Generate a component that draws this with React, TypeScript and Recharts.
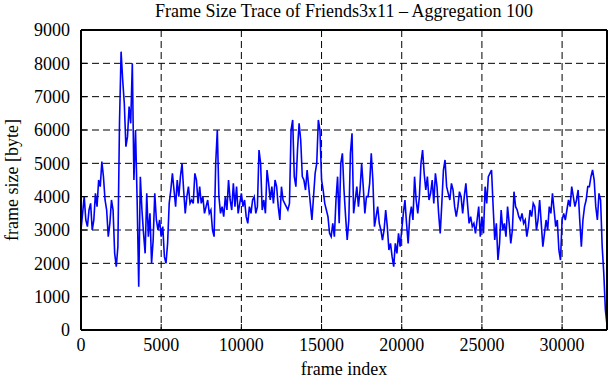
import { CartesianGrid, Line, LineChart, XAxis, YAxis } from "recharts";

// frame size (bytes), one reading every 100 frames (aggregation 100)
const sizes = [
  3000, 3500, 4000, 3300, 3100, 3600, 3800, 3000, 3300, 4100,
  3700, 4500, 4300, 5050, 4600, 3900, 3600, 2800, 3200, 3900,
  3600, 2300, 1900, 2500, 6200, 8350, 7500, 6800, 5500, 5800,
  6700, 6200, 8000, 4500, 6000, 3900, 1300, 4600, 3600, 2900,
  2300, 4100, 2800, 3500, 2000, 2700, 4100, 3300, 3000, 3300,
  2800, 3100, 2200, 2000, 2600, 3800, 4200, 4700, 4200, 3700,
  4500, 4000, 4600, 5000, 4200, 3500, 4000, 4300, 3800, 3900,
  3800, 4700, 4500, 3800, 4300, 3800, 4000, 3500, 3700, 3900,
  3500, 3600, 3000, 2800, 5000, 6000, 4000, 3500, 3700, 3400,
  4000, 3600, 4500, 3900, 3600, 4400, 3700, 4300, 3500, 3800,
  4100, 3700, 3900, 3400, 3200, 3700, 3500, 3900, 4000, 3500,
  3700, 5400, 5000, 3600, 3900, 3500, 4800, 4400, 3900, 4300,
  3800, 4500, 4300, 3700, 3300, 4300, 3900, 3800, 3700, 3600,
  3800, 6000, 6300, 4600, 4300, 5400, 6200, 5700, 4600, 4500,
  4200, 4800, 4300, 3800, 3300, 4000, 4700, 5000, 6300, 6000,
  4500, 4200, 3800, 3600, 3400, 2900, 2800, 3200, 2800, 3900,
  4600, 3200, 5000, 5300, 4200, 3400, 2700, 3300, 5300, 5900,
  3500, 3900, 4300, 3700, 4200, 5000, 4300, 3500, 4000, 4000,
  4400, 5300, 4500, 3100, 3400, 3700, 3200, 3000, 2700, 3000,
  3600, 3100, 2400, 2600, 2200, 1900, 2600, 2300, 2900, 2500,
  3000, 3500, 3900, 3200, 2600, 3400, 3700, 3300, 4600, 3900,
  3500, 4000, 5000, 5400, 4700, 4200, 4600, 3900, 4100, 4500,
  3800, 4700, 4300, 3500, 2900, 3800, 4800, 5100, 4300, 4100,
  3900, 4400, 4200, 3700, 3400, 3700, 4150, 4000, 3500, 4000,
  4400, 3800, 3200, 3400, 3100, 3200, 2900, 3300, 3700, 2800,
  3400, 2900, 4300, 3800, 4600, 4700, 4800, 3700, 2700, 3200,
  2100, 2600, 3600, 3000, 3200, 2800, 3700, 3200, 2600, 3000,
  4150, 3700, 3600, 3400, 3300, 3500, 3200, 3300, 2800, 3100,
  3600, 3400, 3800, 3700, 3000, 3300, 3900, 3200, 2500, 2900,
  3300, 3000, 3700, 3500, 4100, 3600, 3100, 3300, 2400, 2100,
  3300, 3500, 3300, 3600, 3900, 3700, 4300, 4000, 3700, 3900,
  4200, 3300, 2500, 3300, 3700, 3900, 4300, 4300, 4600, 4800,
  4500, 3700, 3300, 4100, 3900, 2500, 1700, 600, 150,
];
const frames = sizes.map((_, i) => i * 100);

const xTicks = [0, 5000, 10000, 15000, 20000, 25000, 30000];
const yTicks = [0, 1000, 2000, 3000, 4000, 5000, 6000, 7000, 8000, 9000];

const data = frames.map((frame, i) => ({ frame, size: sizes[i] }));

const FONT = '"Liberation Serif", "Times New Roman", serif';
const tickStyle = { fill: "#000", fontSize: 18, fontFamily: FONT };
const axisLine = { stroke: "#000", strokeWidth: 2 };
const tickLine = { stroke: "#000", strokeWidth: 1 };

export default function App() {
  return (
    <div style={{ position: "absolute", left: 0, top: 0, width: 611, height: 380, background: "#fff" }}>
      <div
        style={{
          position: "absolute",
          left: 81,
          top: 0,
          width: 526,
          textAlign: "center",
          fontFamily: FONT,
          fontSize: 18,
          lineHeight: "22px",
        }}
      >
        Frame Size Trace of Friends3x11 – Aggregation 100
      </div>
      <LineChart width={611} height={380} data={data} margin={{ top: 0, right: 0, bottom: 0, left: 0 }}>
        <CartesianGrid stroke="#000" strokeDasharray="7 4" />
        <XAxis
          dataKey="frame"
          type="number"
          domain={[0, 32800]}
          ticks={xTicks}
          height={50}
          tickSize={-6}
          tickMargin={14}
          axisLine={axisLine}
          tickLine={tickLine}
          tick={tickStyle}
          label={{ value: "frame index", position: "insideBottom", offset: 5, style: tickStyle }}
        />
        <XAxis
          xAxisId="top"
          orientation="top"
          type="number"
          domain={[0, 32800]}
          ticks={xTicks}
          height={30}
          tickSize={-6}
          axisLine={axisLine}
          tickLine={tickLine}
          tick={false}
        />
        <YAxis
          type="number"
          domain={[0, 9000]}
          ticks={yTicks}
          width={81}
          tickSize={-6}
          tickMargin={17}
          axisLine={axisLine}
          tickLine={tickLine}
          tick={tickStyle}
          label={{
            value: "frame size [byte]",
            angle: -90,
            position: "insideLeft",
            offset: 12,
            style: { ...tickStyle, textAnchor: "middle" },
          }}
        />
        <YAxis
          yAxisId="right"
          orientation="right"
          type="number"
          domain={[0, 9000]}
          ticks={yTicks}
          width={4}
          tickSize={-6}
          axisLine={axisLine}
          tickLine={tickLine}
          tick={false}
        />
        <Line
          dataKey="size"
          stroke="#0000ff"
          strokeWidth={1.6}
          dot={false}
          isAnimationActive={false}
        />
      </LineChart>
    </div>
  );
}
